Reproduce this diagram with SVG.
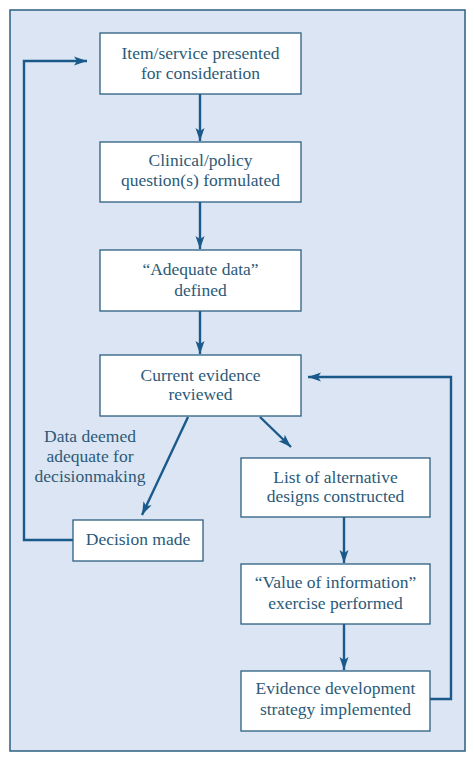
<svg xmlns="http://www.w3.org/2000/svg" width="474" height="760" viewBox="0 0 474 760">
<defs>
<marker id="ah" markerWidth="14" markerHeight="10" refX="13" refY="5" orient="auto" markerUnits="userSpaceOnUse">
<path d="M0,0.5 L13,5 L0,9.5 L3,5 Z" fill="#1a5a8a"/>
</marker>
<style>
.box{fill:#ffffff;stroke:#2c5f80;stroke-width:1.3}
.t{font-family:"Liberation Serif","DejaVu Serif",serif;font-size:17.5px;fill:#2c5a78;text-anchor:middle}
.c{fill:none;stroke:#1a5a8a;stroke-width:2.4}
</style>
</defs>
<rect x="0" y="0" width="474" height="760" fill="#ffffff"/>
<rect x="10" y="10" width="455" height="741" fill="#dce5f3" stroke="#2c5f80" stroke-width="1.5"/>
<g id="connectors">
<path class="c" d="M200,94 V141" marker-end="url(#ah)"/>
<path class="c" d="M200,202 V249" marker-end="url(#ah)"/>
<path class="c" d="M200,311 V354" marker-end="url(#ah)"/>
<path class="c" d="M188,417 L142,515" marker-end="url(#ah)"/>
<path class="c" d="M260,417 L291,447" marker-end="url(#ah)"/>
<path class="c" d="M344,517 V563" marker-end="url(#ah)"/>
<path class="c" d="M344,624 V670" marker-end="url(#ah)"/>
<path class="c" d="M73,540 H24 V61 H87" marker-end="url(#ah)"/>
<path class="c" d="M430,699 H451 V377 H308" marker-end="url(#ah)"/>
</g>
<g id="n1"><rect class="box" x="100" y="33" width="201" height="61"/>
<text class="t" x="200.5" y="59">Item/service presented</text>
<text class="t" x="200.5" y="79">for consideration</text></g>
<g id="n2"><rect class="box" x="100" y="142" width="201" height="60"/>
<text class="t" x="200.5" y="166">Clinical/policy</text>
<text class="t" x="200.5" y="186">question(s) formulated</text></g>
<g id="n3"><rect class="box" x="100" y="250" width="201" height="61"/>
<text class="t" x="200.5" y="275">“Adequate data”</text>
<text class="t" x="200.5" y="296">defined</text></g>
<g id="n4"><rect class="box" x="100" y="355" width="201" height="61"/>
<text class="t" x="200.5" y="381">Current evidence</text>
<text class="t" x="200.5" y="400">reviewed</text></g>
<g id="label"><text class="t" x="90" y="442">Data deemed</text>
<text class="t" x="90" y="462">adequate for</text>
<text class="t" x="90" y="482">decisionmaking</text></g>
<g id="n5"><rect class="box" x="73" y="520" width="130" height="41"/>
<text class="t" x="138" y="545">Decision made</text></g>
<g id="n6"><rect class="box" x="241" y="458" width="189" height="59"/>
<text class="t" x="335.5" y="483">List of alternative</text>
<text class="t" x="335.5" y="502">designs constructed</text></g>
<g id="n7"><rect class="box" x="241" y="564" width="189" height="60"/>
<text class="t" x="335.5" y="588">“Value of information”</text>
<text class="t" x="335.5" y="609">exercise performed</text></g>
<g id="n8"><rect class="box" x="241" y="671" width="189" height="60"/>
<text class="t" x="335.5" y="694">Evidence development</text>
<text class="t" x="335.5" y="715">strategy implemented</text></g>
</svg>
